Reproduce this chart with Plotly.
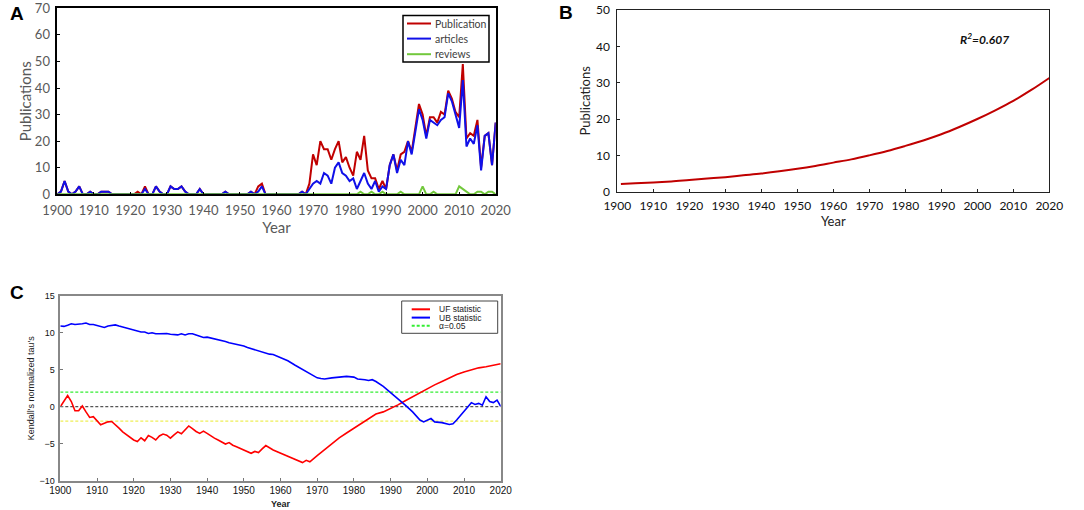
import plotly.graph_objects as go

# ---- panel A : publications per year ----
years = list(range(1900, 2021))

publication = [
    0, 1, 5, 1, 0, 1, 3, 0, 0, 1,
    0, 0, 1, 1, 1, 0, 0, 0, 0, 0,
    0, 0, 1, 0, 3, 0, 0, 3, 1, 0,
    0, 3, 2, 2, 3, 1, 0, 0, 0, 2,
    0, 0, 0, 0, 0, 0, 1, 0, 0, 0,
    0, 0, 0, 1, 0, 3, 4, 0, 0, 0,
    0, 0, 0, 0, 0, 0, 0, 1, 0, 4,
    15, 11, 20, 17, 17, 13, 17, 20, 12, 14,
    10, 7, 16, 13, 22, 9, 6, 6, 2, 5,
    2, 11, 15, 9, 15, 16, 20, 16, 25, 34,
    30, 22, 29, 29, 27, 31, 30, 39, 36, 31,
    29, 49, 21, 23, 22, 28, 10, 22, 23, 11,
    27,
]

articles = [
    0, 1, 5, 1, 0, 1, 3, 0, 0, 1,
    0, 0, 1, 1, 1, 0, 0, 0, 0, 0,
    0, 0, 0, 0, 2, 0, 0, 3, 1, 0,
    0, 3, 2, 2, 3, 1, 0, 0, 0, 2,
    0, 0, 0, 0, 0, 0, 1, 0, 0, 0,
    0, 0, 0, 1, 0, 1, 3, 0, 0, 0,
    0, 0, 0, 0, 0, 0, 0, 1, 0, 2,
    4, 5, 4, 8, 7, 4, 10, 12, 8, 7,
    5, 6, 2, 5, 8, 4, 2, 5, 1, 3,
    2, 11, 15, 8, 13, 11, 20, 15, 24, 32,
    28, 21, 28, 27, 26, 28, 29, 38, 35, 30,
    25, 43, 18, 21, 19, 26, 9, 22, 23, 11,
    27,
]

reviews = [
    0, 0, 0, 0, 0, 0, 0, 0, 0, 0,
    0, 0, 0, 0, 0, 0, 0, 0, 0, 0,
    0, 0, 0, 0, 0, 0, 0, 0, 0, 0,
    0, 0, 0, 0, 0, 0, 0, 0, 0, 0,
    0, 0, 0, 0, 0, 0, 0, 0, 0, 0,
    0, 0, 0, 0, 0, 0, 0, 0, 0, 0,
    0, 0, 0, 0, 0, 0, 0, 0, 0, 0,
    0, 0, 0, 0, 0, 0, 0, 0, 0, 0,
    0, 0, 0, 1, 0, 0, 1, 0, 0, 1,
    0, 0, 0, 0, 1, 0, 0, 0, 0, 0,
    3, 0, 0, 1, 0, 0, 0, 0, 0, 0,
    3, 2, 1, 0, 0, 1, 1, 0, 1, 1,
    0,
]

# ---- panel B : exponential trend ----
trend_years = [1901, 1905, 1910, 1915, 1920, 1925, 1930, 1935, 1940, 1945,
               1950, 1955, 1960, 1965, 1970, 1975, 1980, 1985, 1990, 1995,
               2000, 2005, 2010, 2015, 2020]
trend_values = [2.1, 2.3, 2.5, 2.8, 3.2, 3.6, 4.0, 4.5, 5.0, 5.6,
                6.3, 7.1, 8.0, 8.9, 10.0, 11.2, 12.6, 14.1, 15.8, 17.8,
                20.0, 22.4, 25.0, 28.0, 31.3]
r2_label = "R<sup>2</sup>=0.607"

# ---- panel C : Mann-Kendall ----
uf_years = list(range(1900, 1957)) + [
    1958, 1960, 1962, 1964, 1966, 1967, 1968, 1970, 1972, 1974, 1976, 1978,
    1980, 1982, 1984, 1986, 1988, 1990, 1992, 1994, 1996, 1998, 2000, 2002,
    2004, 2006, 2008, 2010, 2012, 2014, 2016, 2018, 2020]
uf_values = [
    0, 0.75, 1.5, 0.7, -0.55, -0.55, 0.1, -0.7, -1.45, -1.35,
    -1.9, -2.45, -2.25, -2.05, -2.0, -2.4, -2.9, -3.4, -3.75, -4.1,
    -4.5, -4.7, -4.2, -4.6, -3.9, -4.15, -4.5, -3.95, -3.7, -3.85,
    -4.25, -3.8, -3.4, -3.65, -3.15, -2.6, -2.95, -3.35, -3.6, -3.3,
    -3.6, -3.95, -4.25, -4.5, -4.75, -5.05, -4.85, -5.2, -5.4, -5.65,
    -5.85, -6.1, -6.3, -6.05, -6.2, -5.7, -5.25,
    -5.85, -6.3, -6.7, -7.15, -7.55, -7.25, -7.45, -6.6, -5.8, -5.0, -4.2, -3.55,
    -2.9, -2.3, -1.6, -1.0, -0.7, -0.25, 0.25, 0.8, 1.35, 1.9, 2.45, 2.95,
    3.4, 3.9, 4.35, 4.7, 5.0, 5.25, 5.4, 5.55, 5.8,
]

ub_years = list(range(1900, 1958)) + [
    1958, 1960, 1962, 1964, 1966, 1968, 1970, 1971, 1972, 1974, 1976, 1977,
    1978, 1980, 1981, 1983, 1984, 1985, 1986, 1988, 1990, 1992, 1994, 1996,
    1998, 1999, 2000, 2001, 2002, 2004, 2006, 2007, 2008, 2010, 2011, 2012,
    2013, 2014, 2015, 2016, 2017, 2018, 2019, 2020]
ub_values = [
    10.9, 10.85, 11.0, 11.2, 11.1, 11.1, 11.2, 11.3, 11.1, 11.1,
    11.0, 10.9, 10.7, 10.9, 11.0, 11.05, 10.9, 10.75, 10.6, 10.5,
    10.35, 10.2, 10.1, 10.1, 9.9, 10.0, 9.85, 9.85, 9.9, 9.9,
    9.8, 9.7, 9.7, 9.85, 9.7, 9.85, 9.85, 9.7, 9.5, 9.35,
    9.4, 9.3, 9.15, 9.0, 8.9, 8.8, 8.65, 8.55, 8.5, 8.35,
    8.2, 8.0, 7.85, 7.65, 7.5, 7.4, 7.2, 7.1,
    7.05, 6.6, 6.2, 5.6, 5.0, 4.4, 3.9, 3.8, 3.75, 3.9, 4.0, 3.95,
    4.1, 4.0, 3.75, 3.65, 3.55, 3.65, 3.4, 2.75, 1.9, 1.15, 0.2, -0.7,
    -1.8, -2.05, -1.8, -1.6, -2.05, -2.15, -2.4, -2.3, -1.8, -0.7, 0.0, 0.55,
    0.3, 0.45, 0.2, 1.35, 0.7, 0.55, 0.9, 0.05,
]
alpha_level = 1.96

decades = list(range(1900, 2021, 10))

W, H = 1084, 510


def px(x):
    return x / W


def py(y):
    return 1 - y / H


def add_box_legend(fig, names, colors, dashes, box, x_line, x_text, y_rows, font, border):
    """legende dessinee a la main (boite + segments + textes)"""
    fig.add_shape(type="rect", xref="paper", yref="paper",
                  x0=px(box[0]), x1=px(box[1]), y0=py(box[2]), y1=py(box[3]),
                  line=dict(color=border[0], width=border[1]), fillcolor="white")
    for name, color, dash, yr in zip(names, colors, dashes, y_rows):
        fig.add_shape(type="line", xref="paper", yref="paper",
                      x0=px(x_line[0]), x1=px(x_line[1]), y0=py(yr), y1=py(yr),
                      line=dict(color=color, width=2, dash=dash))
        fig.add_annotation(text=name, x=px(x_text), y=py(yr), xref="paper", yref="paper",
                           xanchor="left", yanchor="middle", showarrow=False, font=font)
    return fig


fig = go.Figure()

# A
a_names = ["Publication", "articles", "reviews"]
a_colors = ["#c00000", "#1010e8", "#72c83c"]
for name, vals, col in zip(a_names, [publication, articles, reviews], a_colors):
    fig.add_trace(go.Scatter(x=years, y=vals, name=name, mode="lines",
                             line=dict(color=col, width=2), showlegend=False,
                             xaxis="x", yaxis="y"))

# B
fig.add_trace(go.Scatter(x=trend_years, y=trend_values, mode="lines", line_shape="spline",
                         line=dict(color="#c00000", width=2), showlegend=False,
                         xaxis="x2", yaxis="y2"))

# C
fig.add_trace(go.Scatter(x=[1900, 2020], y=[alpha_level, alpha_level], mode="lines",
                         showlegend=False,
                         line=dict(color="#33ee33", width=1.3, dash="3px,2px"),
                         xaxis="x3", yaxis="y3"))
fig.add_trace(go.Scatter(x=[1900, 2020], y=[0, 0], mode="lines", showlegend=False,
                         line=dict(color="#555555", width=1.3, dash="3px,2px"),
                         xaxis="x3", yaxis="y3"))
fig.add_trace(go.Scatter(x=[1900, 2020], y=[-alpha_level, -alpha_level], mode="lines",
                         showlegend=False,
                         line=dict(color="#eeee55", width=1.3, dash="3px,2px"),
                         xaxis="x3", yaxis="y3"))
fig.add_trace(go.Scatter(x=uf_years, y=uf_values, name="UF statistic", mode="lines",
                         line=dict(color="#ff0000", width=1.6), showlegend=False,
                         xaxis="x3", yaxis="y3"))
fig.add_trace(go.Scatter(x=ub_years, y=ub_values, name="UB statistic", mode="lines",
                         line=dict(color="#0000ff", width=1.6), showlegend=False,
                         xaxis="x3", yaxis="y3"))

grey = "#595959"
font_a = dict(family="Lato", size=13, color=grey)
font_b = dict(family="Lato", size=12, color="#111111")
font_c = dict(family="Liberation Sans", size=9, color="#222222")

common = dict(automargin=False, ticklabeloverflow="allow", showgrid=False,
              zeroline=False, ticks="inside", ticklen=3, mirror=True, showline=True)

fig.update_layout(
    width=W,
    height=H,
    margin=dict(l=0, r=0, t=0, b=0),
    paper_bgcolor="white",
    plot_bgcolor="white",
    showlegend=False,
    xaxis=dict(domain=[px(57.3), px(495.7)], range=[1900, 2020], tickvals=decades,
               tickcolor="black", linecolor="black", linewidth=1.5, tickfont=font_a,
               ticklabelstandoff=3,
               title=dict(text="Year", font=dict(family="Lato", size=15, color=grey), standoff=1),
               **common),
    yaxis=dict(domain=[py(194.3), py(8.3)], range=[0, 70], dtick=10,
               tickcolor="black", linecolor="black", linewidth=1.5, tickfont=font_a,
               ticklabelstandoff=3,
               title=dict(text="Publications", font=dict(family="Lato", size=15, color=grey), standoff=0),
               **common),
    xaxis2=dict(domain=[px(617.3), px(1049.3)], range=[1900, 2020], tickvals=decades,
                anchor="y2", tickcolor="#222222", linecolor="#222222", linewidth=1,
                tickfont=font_b, ticklabelstandoff=3,
                title=dict(text="Year", font=dict(family="Lato", size=13, color="#222222"), standoff=4),
                **common),
    yaxis2=dict(domain=[py(191.7), py(10)], range=[0, 50], dtick=10, anchor="x2",
                tickcolor="#222222", linecolor="#222222", linewidth=1, tickfont=font_b,
                ticklabelstandoff=4,
                title=dict(text="Publications", font=dict(family="Lato", size=13, color="#222222"), standoff=2),
                **common),
    xaxis3=dict(domain=[px(60.3), px(500.7)], range=[1900, 2020], tickvals=decades,
                anchor="y3", tickcolor="#777777", linecolor="#888888", linewidth=1.5,
                tickfont=dict(family="Liberation Sans", size=10, color="#111111"),
                title=dict(text="<b>Year</b>", font=font_c, standoff=5),
                **common),
    yaxis3=dict(domain=[py(480.7), py(295.7)], range=[-10, 15], dtick=5, anchor="x3",
                tickcolor="#777777", linecolor="#888888", linewidth=1.5,
                tickfont=dict(family="Liberation Sans", size=9, color="#111111"),
                ticklabelstandoff=2,
                title=dict(text="Kendall's normalized tau's", font=font_c, standoff=3),
                **common),
)

# legends
add_box_legend(fig, a_names, a_colors, ["solid"] * 3,
               box=(403, 489, 15.5, 62), x_line=(407, 431), x_text=433,
               y_rows=(23.5, 38.6, 54.2),
               font=dict(family="Lato", size=10.5, color="#404040"),
               border=("black", 1.5))
add_box_legend(fig, ["UF statistic", "UB statistic", "α=0.05"],
               ["#ff0000", "#0000ff", "#33ee33"], ["solid", "solid", "3px,2px"],
               box=(401.7, 497.7, 301, 333.3), x_line=(411.7, 430), x_text=437,
               y_rows=(309.3, 317.6, 325.7),
               font=dict(family="Liberation Sans", size=8.5, color="#222222"),
               border=("#444444", 1))

# panel letters and R^2 note
for letter, lx, ly in [("A", 17, 13), ("B", 566, 12), ("C", 17, 292)]:
    fig.add_annotation(text=f"<b>{letter}</b>", x=px(lx), y=py(ly), xref="paper", yref="paper",
                       xanchor="center", yanchor="middle", showarrow=False,
                       font=dict(family="Liberation Sans", size=19, color="black"))

fig.add_annotation(text=f"<b><i>{r2_label}</i></b>", x=2002, y=42, xref="x2", yref="y2",
                   showarrow=False, font=dict(family="Lato", size=12, color="#111111"))

# marge par defaut du <body> retiree pour que la figure tombe a (0, 0)
fig.write_html("out.html", config={"displayModeBar": False},
               post_script="document.body.style.margin='0px';")
